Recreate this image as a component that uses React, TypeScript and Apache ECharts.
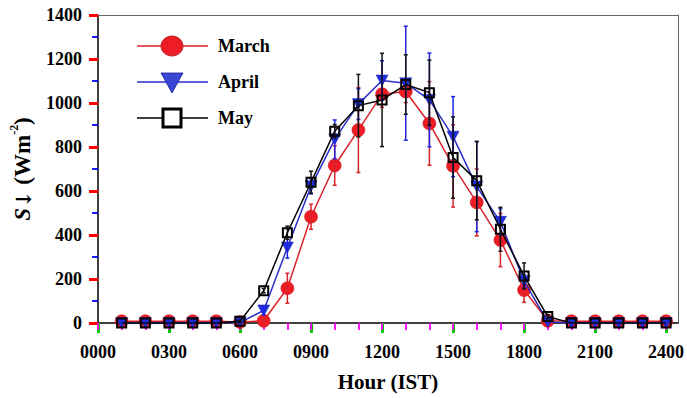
import React, { useEffect, useRef } from "react";
import * as echarts from "echarts";

// ---- data ----
const hours = [1, 2, 3, 4, 5, 6, 7, 8, 9, 10, 11, 12, 13, 14, 15, 16, 17, 18, 19, 20, 21, 22, 23, 24];

const marchValues = [8, 8, 8, 8, 8, 5, 10, 158, 483, 716, 877, 1040, 1052, 907, 714, 548, 377, 150, 10, 8, 8, 8, 8, 8];
const marchErrors = [0, 0, 0, 0, 0, 0, 5, 68, 57, 90, 193, 60, 50, 190, 187, 152, 121, 56, 5, 0, 0, 0, 0, 0];

const aprilValues = [0, 0, 0, 0, 0, 3, 57, 343, 622, 835, 995, 1102, 1090, 1014, 847, 620, 460, 190, 5, 0, 0, 0, 0, 0];
const aprilErrors = [0, 0, 0, 0, 0, 0, 20, 48, 35, 88, 70, 90, 259, 213, 182, 205, 60, 30, 0, 0, 0, 0, 0, 0];

const mayValues = [0, 0, 0, 0, 0, 8, 147, 410, 640, 872, 988, 1014, 1084, 1047, 752, 647, 426, 214, 29, 0, 0, 0, 0, 0];
const mayErrors = [0, 0, 0, 0, 0, 5, 10, 30, 50, 30, 142, 212, 135, 148, 185, 178, 100, 59, 10, 0, 0, 0, 0, 0];

const majorTickHours = [0, 3, 6, 9, 12, 15, 18, 21, 24];
const minorTickHours = [0, 1, 2, 3, 4, 5, 6, 7, 8, 9, 10, 11, 12, 13, 14, 15, 16, 17, 18, 19, 20, 21, 22, 23, 24];
const xTickLabels = ["0000", "0300", "0600", "0900", "1200", "1500", "1800", "2100", "2400"];

const seriesNames = ["March", "April", "May"];

const FONT = "'Liberation Serif', 'Times New Roman', serif";
const RED = "#ee1c24";
const RED_LINE = "#d9232a";
const BLUE_LINE = "#2a2fc8";
const BLACK = "#000000";

function pairs(vals: number[]) {
  return hours.map((h, i) => [h, vals[i]]);
}
function errData(vals: number[], errs: number[]) {
  const out: number[][] = [];
  hours.forEach((h, i) => {
    if (errs[i] > 0) out.push([h, vals[i] - errs[i], vals[i] + errs[i]]);
  });
  return out;
}
function errSeries(name: string, vals: number[], errs: number[], color: string, z: number) {
  return {
    type: "custom",
    name: name + "-err",
    z,
    silent: true,
    xAxisIndex: 0,
    yAxisIndex: 0,
    data: errData(vals, errs),
    encode: { x: 0, y: [1, 2] },
    renderItem: (params: any, api: any) => {
      const x = api.value(0);
      const lo = api.value(1);
      const hi = api.value(2);
      const top = api.coord([x, hi]);
      const bot = api.coord([x, lo]);
      const w = 2;
      const st = { stroke: color, lineWidth: 1.5 };
      return {
        type: "group",
        children: [
          { type: "line", shape: { x1: top[0], y1: top[1], x2: bot[0], y2: bot[1] }, style: st },
          { type: "line", shape: { x1: top[0] - w, y1: top[1], x2: top[0] + w, y2: top[1] }, style: st },
          { type: "line", shape: { x1: bot[0] - w, y1: bot[1], x2: bot[0] + w, y2: bot[1] }, style: st },
        ],
      };
    },
  };
}

export default function App() {
  const ref = useRef<HTMLDivElement>(null);

  useEffect(() => {
    if (!ref.current) return;
    const chart = echarts.init(ref.current, null, { renderer: "svg" });

    const legendX1 = 137;
    const legendX2 = 208;
    const legendCx = 172;
    const legendTextX = 218;
    const rows = [46, 82, 118];

    chart.setOption({
      animation: false,
      backgroundColor: "#ffffff",
      grid: { left: 92, right: 6, top: 15, bottom: 75 },
      xAxis: [
        {
          type: "value",
          min: 0,
          max: 24.5,
          name: "Hour (IST)",
          nameLocation: "middle",
          nameGap: 48,
          nameTextStyle: { fontFamily: FONT, fontWeight: "bold", fontSize: 21, color: "#000" },
          axisLine: { show: true, onZero: false, lineStyle: { color: "#000", width: 1.5 } },
          axisTick: { show: true, customValues: majorTickHours, length: 10, lineStyle: { color: "#0c0", width: 3 } },
          axisLabel: {
            customValues: majorTickHours,
            formatter: (v: number) => xTickLabels[majorTickHours.indexOf(v)] ?? "",
            fontFamily: FONT,
            fontWeight: "bold",
            fontSize: 18,
            color: "#000",
            margin: 20,
          },
          splitLine: { show: false },
        },
        {
          type: "value",
          min: 0,
          max: 24.5,
          position: "bottom",
          axisLine: { show: false, onZero: false },
          axisTick: { show: true, customValues: minorTickHours, length: 7, lineStyle: { color: "#f0f", width: 1.8 } },
          axisLabel: { show: false },
          splitLine: { show: false },
        },
        {
          type: "value",
          min: 0,
          max: 24.5,
          position: "top",
          axisLine: { show: true, onZero: false, lineStyle: { color: "#666", width: 1 } },
          axisTick: { show: false },
          axisLabel: { show: false },
          splitLine: { show: false },
        },
      ],
      yAxis: [
        {
          type: "value",
          min: 0,
          max: 1400,
          interval: 200,
          name: "{i|S}{a|↓}{n| (Wm}{s|-2}{n|)}",
          nameLocation: "middle",
          nameGap: 64,
          nameRotate: 90,
          nameTextStyle: {
            color: "#000",
            rich: {
              i: { fontFamily: FONT, fontWeight: "bold", fontStyle: "italic", fontSize: 23, lineHeight: 26, verticalAlign: "bottom" },
              a: { fontFamily: "'DejaVu Serif', serif", fontWeight: "bold", fontSize: 21, lineHeight: 26, verticalAlign: "bottom" },
              n: { fontFamily: FONT, fontWeight: "bold", fontSize: 23, lineHeight: 26, verticalAlign: "bottom" },
              s: { fontFamily: FONT, fontWeight: "bold", fontSize: 12, lineHeight: 26, verticalAlign: "top" },
            },
          },
          axisLine: { show: true, onZero: false, lineStyle: { color: "#000", width: 1.5 } },
          axisTick: { show: true, length: 9, lineStyle: { color: "#f00", width: 3 } },
          minorTick: { show: true, splitNumber: 2, length: 6, lineStyle: { color: "#00f", width: 1.8 } },
          axisLabel: {
            fontFamily: FONT,
            fontWeight: "bold",
            fontSize: 18,
            color: "#000",
            margin: 16,
            formatter: (v: number) => String(v),
          },
          splitLine: { show: false },
        },
        {
          type: "value",
          min: 0,
          max: 1400,
          position: "right",
          axisLine: { show: true, onZero: false, lineStyle: { color: "#666", width: 1 } },
          axisTick: { show: false },
          axisLabel: { show: false },
          splitLine: { show: false },
        },
      ],
      series: [
        {
          type: "line",
          name: seriesNames[0],
          data: pairs(marchValues),
          z: 2,
          symbol: "circle",
          symbolSize: 13,
          lineStyle: { color: RED_LINE, width: 1.5 },
          itemStyle: { color: RED, borderColor: "#c0141b", borderWidth: 0.5 },
        },
        errSeries(seriesNames[0], marchValues, marchErrors, RED_LINE, 3),
        {
          type: "line",
          name: seriesNames[1],
          data: pairs(aprilValues),
          z: 4,
          symbol: "triangle",
          symbolRotate: 180,
          symbolSize: [12, 11],
          lineStyle: { color: BLUE_LINE, width: 1.5 },
          itemStyle: { color: "#1f2de0", borderColor: "#1a1aa0", borderWidth: 0.5 },
        },
        errSeries(seriesNames[1], aprilValues, aprilErrors, "#1e24e0", 5),
        {
          type: "line",
          name: seriesNames[2],
          data: pairs(mayValues),
          z: 6,
          symbol: "rect",
          symbolSize: 9,
          lineStyle: { color: BLACK, width: 1.5 },
          itemStyle: { color: "rgba(0,0,0,0)", borderColor: BLACK, borderWidth: 2 },
        },
        errSeries(seriesNames[2], mayValues, mayErrors, "#111", 7),
      ],
      graphic: [
        { type: "line", shape: { x1: legendX1, y1: rows[0], x2: legendX2, y2: rows[0] }, style: { stroke: RED_LINE, lineWidth: 1.5 } },
        { type: "ellipse", shape: { cx: legendCx, cy: rows[0], rx: 11, ry: 10 }, style: { fill: RED, stroke: "#b0141a", lineWidth: 0.8 } },
        { type: "text", x: legendTextX, y: rows[0], style: { text: seriesNames[0], fontFamily: FONT, fontWeight: "bold", fontSize: 18, fill: "#000", verticalAlign: "middle" } },
        { type: "line", shape: { x1: legendX1, y1: rows[1], x2: legendX2, y2: rows[1] }, style: { stroke: BLUE_LINE, lineWidth: 1.5 } },
        {
          type: "polygon",
          shape: { points: [[legendCx - 11, rows[1] - 9], [legendCx + 11, rows[1] - 9], [legendCx, rows[1] + 11]] },
          style: { fill: "#3a47d4", stroke: "#1a1aa0", lineWidth: 0.8 },
        },
        { type: "text", x: legendTextX, y: rows[1], style: { text: seriesNames[1], fontFamily: FONT, fontWeight: "bold", fontSize: 18, fill: "#000", verticalAlign: "middle" } },
        { type: "line", shape: { x1: legendX1, y1: rows[2], x2: legendX2, y2: rows[2] }, style: { stroke: BLACK, lineWidth: 1.5 } },
        { type: "rect", shape: { x: legendCx - 9, y: rows[2] - 9, width: 18, height: 18 }, style: { fill: "#fff", stroke: BLACK, lineWidth: 3 } },
        { type: "text", x: legendTextX, y: rows[2], style: { text: seriesNames[2], fontFamily: FONT, fontWeight: "bold", fontSize: 18, fill: "#000", verticalAlign: "middle" } },
      ],
    });

    return () => chart.dispose();
  }, []);

  return <div ref={ref} style={{ position: "absolute", left: 0, top: 0, width: 687, height: 398 }} />;
}
